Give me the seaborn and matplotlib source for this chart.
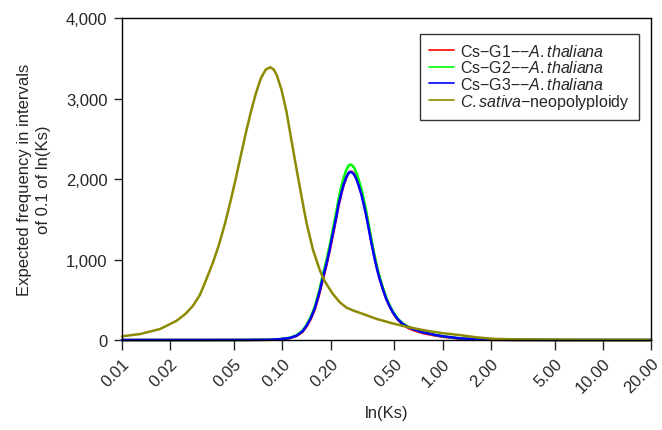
import matplotlib
matplotlib.use("Agg")
import matplotlib.pyplot as plt
import matplotlib.ticker as mticker
import pandas as pd
import seaborn as sns

# Ks values (synonymous substitutions per site) and expected frequencies
ks_neo = [0.01000, 0.01295, 0.01725, 0.02192, 0.02505, 0.02770, 0.03062,
          0.03361, 0.03690, 0.04022, 0.04382, 0.04776, 0.05133, 0.05512,
          0.05923, 0.06363, 0.06837, 0.07345, 0.07889, 0.08417, 0.08851,
          0.09241, 0.09886, 0.1062, 0.1141, 0.1226, 0.1317, 0.1415, 0.1555,
          0.1713, 0.1840, 0.2063, 0.2282, 0.2523, 0.2829, 0.3174, 0.3880,
          0.4881, 0.6229, 0.7948, 1.000, 1.276, 1.605, 2.049, 3.018, 5.358,
          10.0, 20.0]
freq_neo = [46, 74, 136, 239, 330, 425, 560,
            755, 960, 1180, 1440, 1740, 2010, 2290,
            2570, 2830, 3060, 3250, 3360, 3388, 3360,
            3290, 3110, 2840, 2480, 2130, 1790, 1460, 1120,
            870, 730, 575, 470, 400, 360, 325, 262,
            206, 157, 115, 85, 62, 35, 15, 6, 2,
            0.5, 0]

ks_cs = [0.0100, 0.0300, 0.06272, 0.08357, 0.09647, 0.1114, 0.1231, 0.1342,
         0.1421, 0.1505, 0.1594, 0.1688, 0.1795, 0.1894, 0.1977, 0.2078,
         0.2177, 0.2249, 0.2338, 0.2417, 0.2512, 0.2596, 0.2660, 0.2730,
         0.2810, 0.2900, 0.2997, 0.3115, 0.3220, 0.3346, 0.3458, 0.3596,
         0.3770, 0.3936, 0.4051, 0.4229, 0.4458, 0.4674, 0.4901, 0.5244,
         0.5657, 0.6052, 0.6531, 0.7189, 0.7913, 0.8917, 1.004, 1.276,
         1.605, 2.049, 3.018, 5.358, 20.0]
freq_g1 = [0, 0, 1, 3, 9, 23, 51, 104,
           172, 260, 378, 545, 760, 945, 1110, 1325,
           1525, 1678, 1820, 1928, 2022, 2076, 2092, 2088,
           2065, 2012, 1935, 1828, 1710, 1560, 1412, 1232,
           1030, 865, 772, 648, 512, 420, 340, 255,
           190, 154, 125, 97, 77, 57, 40, 17,
           7, 2, 0.5, 0, 0]
freq_g2 = [0, 0, 1, 3, 11, 28, 60, 120,
           192, 288, 412, 590, 815, 1005, 1175, 1395,
           1600, 1760, 1905, 2020, 2115, 2168, 2180, 2170,
           2140, 2080, 1995, 1880, 1755, 1595, 1440, 1255,
           1045, 880, 785, 660, 525, 433, 355, 268,
           205, 170, 140, 111, 89, 65, 46, 21,
           9, 3, 1, 0, 0]
freq_g3 = [0, 0, 1, 3, 10, 25, 55, 110,
           180, 270, 390, 560, 776, 960, 1127, 1340,
           1539, 1690, 1828, 1935, 2025, 2075, 2088, 2080,
           2055, 2000, 1920, 1810, 1690, 1539, 1390, 1209,
           1010, 850, 760, 640, 508, 420, 343, 260,
           198, 165, 136, 108, 87, 64, 46, 21,
           9, 3, 1, 0, 0]

series_names = [r"Cs−G1−−$\it{A.thaliana}$",
                r"Cs−G2−−$\it{A.thaliana}$",
                r"Cs−G3−−$\it{A.thaliana}$",
                r"$\it{C.sativa}$−neopolyploidy"]
series_colors = ["#ff0000", "#00ff00", "#0000ff", "#8b8a00"]

x_ticks = [0.01, 0.02, 0.05, 0.10, 0.20, 0.50, 1.00, 2.00, 5.00, 10.00, 20.00]
x_tick_labels = ["0.01", "0.02", "0.05", "0.10", "0.20", "0.50", "1.00",
                 "2.00", "5.00", "10.00", "20.00"]
y_ticks = [0, 1000, 2000, 3000, 4000]

sns.set_style("ticks")
plt.rcParams["font.family"] = ["Liberation Sans", "DejaVu Sans"]
plt.rcParams["mathtext.fontset"] = "custom"
plt.rcParams["mathtext.rm"] = "Liberation Sans"
plt.rcParams["mathtext.it"] = "Liberation Sans:italic"

frames = []
for name, ks, fr in [(series_names[0], ks_cs, freq_g1),
                     (series_names[1], ks_cs, freq_g2),
                     (series_names[2], ks_cs, freq_g3),
                     (series_names[3], ks_neo, freq_neo)]:
    frames.append(pd.DataFrame({"Ks": ks, "freq": fr, "series": name}))
df = pd.concat(frames, ignore_index=True)

fig = plt.figure(figsize=(6.62, 4.31), dpi=100)
ax = fig.add_axes([0.1843, 0.2088, 0.9834 - 0.1843, 0.9559 - 0.2088])

for name, color in zip(series_names, series_colors):
    sub = df[df["series"] == name]
    sns.lineplot(data=sub, x="Ks", y="freq", ax=ax, color=color, lw=1.8,
                 label=name, clip_on=False, sort=True, estimator=None)

ax.set_xscale("log")
ax.set_xlim(0.01, 20)
ax.set_ylim(0, 4000)
ax.set_xticks(x_ticks)
ax.set_xticklabels(x_tick_labels, rotation=45, ha="right",
                   rotation_mode="anchor", fontsize=12)
ax.xaxis.set_minor_locator(mticker.NullLocator())
ax.set_yticks(y_ticks)
ax.yaxis.set_major_formatter(mticker.FuncFormatter(lambda v, p: f"{int(v):,}"))
ax.tick_params(axis="y", labelsize=12, length=6, width=1, direction="out",
               pad=4.5)
ax.tick_params(axis="x", length=7, width=1, direction="out", pad=4)

for s in ax.spines.values():
    s.set_visible(True)
    s.set_linewidth(1.0)
    s.set_color("black")

ax.set_xlabel("ln(Ks)", fontsize=12, labelpad=7)
ax.set_ylabel("Expected frequency in intervals\nof 0.1 of ln(Ks)", fontsize=12,
              labelpad=11, linespacing=1.3)

leg = ax.legend(loc="upper right", bbox_to_anchor=(0.977, 0.95), fontsize=11.5,
                frameon=True, fancybox=False, handlelength=1.6,
                handletextpad=0.4, borderpad=0.55, labelspacing=0.02,
                borderaxespad=0)
leg.get_frame().set_edgecolor("black")
leg.get_frame().set_linewidth(1.0)
for line in leg.get_lines():
    line.set_linewidth(1.2)

fig.savefig("out.png", dpi=100)
